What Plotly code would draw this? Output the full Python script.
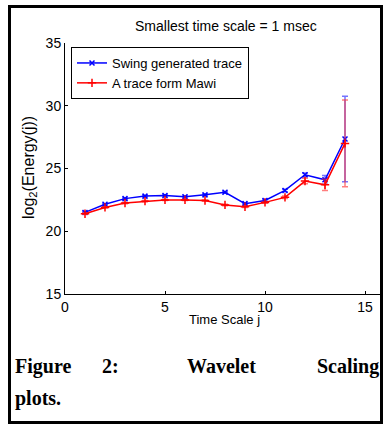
import plotly.graph_objects as go

# ---- data ----
scale_j = list(range(1, 15))
swing_energy = [21.5, 22.15, 22.6, 22.8, 22.85, 22.75, 22.9, 23.1, 22.2, 22.45, 23.25, 24.5, 24.1, 27.35]
swing_err = [0.05, 0.05, 0.05, 0.05, 0.05, 0.05, 0.05, 0.06, 0.06, 0.07, 0.1, 0.15, 0.35, 3.4]
mawi_energy = [21.4, 21.9, 22.25, 22.4, 22.5, 22.5, 22.45, 22.1, 21.95, 22.3, 22.7, 24.0, 23.7, 27.0]
mawi_err = [0.05, 0.05, 0.05, 0.05, 0.05, 0.05, 0.05, 0.06, 0.06, 0.07, 0.1, 0.22, 0.45, 3.45]
x_ticks = [0, 5, 10, 15]
y_ticks = [15, 20, 25, 30, 35]

W, H = 383, 424
L, R, T, B = 65, 380, 43, 294


def px(x):
    return (x - L) / (R - L)


def py(y):
    return (B - y) / (B - T)


fig = go.Figure()
fig.add_trace(go.Scatter(
    x=scale_j, y=swing_energy, mode="lines+markers", name="Swing generated trace",
    line=dict(color="#0000ff", width=1.5),
    marker=dict(symbol="x-thin-open", size=5, color="#0000ff", line=dict(width=1.5, color="#0000ff")),
    error_y=dict(type="data", array=swing_err, visible=True, color="rgba(40,40,255,0.65)", thickness=1.5, width=3),
))
fig.add_trace(go.Scatter(
    x=scale_j, y=mawi_energy, mode="lines+markers", name="A trace form Mawi",
    line=dict(color="#ff0000", width=1.5),
    marker=dict(symbol="cross-thin-open", size=6, color="#ff0000", line=dict(width=1.5, color="#ff0000")),
    error_y=dict(type="data", array=mawi_err, visible=True, color="rgba(255,40,40,0.6)", thickness=1.5, width=3),
))

font = "Liberation Sans, Arial, Helvetica, sans-serif"
serif = "Liberation Serif, Times New Roman, serif"

annotations = [
    dict(text="Smallest time scale = 1 msec", x=px(226), y=py(26), xref="paper", yref="paper",
         showarrow=False, font=dict(family=font, size=14, color="black"), xanchor="center", yanchor="middle"),
    dict(text="Time Scale j", x=px(224), y=py(319), xref="paper", yref="paper",
         showarrow=False, font=dict(family=font, size=13, color="black"), xanchor="center", yanchor="middle"),
    dict(text="log<sub>2</sub>(Energy(j))", x=px(29), y=py(168), xref="paper", yref="paper", textangle=-90,
         showarrow=False, font=dict(family=font, size=16, color="black"), xanchor="center", yanchor="middle"),
]
cap_font = dict(family=serif, size=20, color="black", weight="bold")
for word, xpos, anchor in [("Figure", 13, "left"), ("2:", 100, "left"), ("Wavelet", 185, "left"), ("Scaling", 381, "right")]:
    annotations.append(dict(text="<b>%s</b>" % word, x=px(xpos), y=py(366), xref="paper", yref="paper",
                            showarrow=False, font=cap_font, xanchor=anchor, yanchor="middle"))
annotations.append(dict(text="<b>plots.</b>", x=px(13), y=py(398), xref="paper", yref="paper",
                        showarrow=False, font=cap_font, xanchor="left", yanchor="middle"))

shapes = [
    dict(type="rect", xref="paper", yref="paper", x0=px(9.5), x1=px(381.5), y0=py(422.5), y1=py(6.5),
         line=dict(color="black", width=3)),
]

fig.update_layout(
    width=W, height=H, margin=dict(l=L, r=W - R, t=T, b=H - B),
    paper_bgcolor="white", plot_bgcolor="white",
    showlegend=True,
    legend=dict(x=px(71), y=py(47), xanchor="left", yanchor="top", bgcolor="white",
                bordercolor="black", borderwidth=1, font=dict(family=font, size=13, color="black"),
                itemwidth=30, tracegroupgap=0),
    annotations=annotations, shapes=shapes,
    font=dict(family=font, color="black"),
)
fig.update_xaxes(range=[0, 15.75], tickvals=x_ticks, ticks="inside", ticklen=3, tickcolor="black",
                 showline=True, linecolor="black", linewidth=1, showgrid=False, zeroline=False,
                 tickfont=dict(family=font, size=14, color="black"))
fig.update_yaxes(range=[15, 35], tickvals=y_ticks, ticks="inside", ticklen=3, tickcolor="black",
                 showline=True, linecolor="black", linewidth=1, showgrid=False, zeroline=False,
                 tickfont=dict(family=font, size=14, color="black"))

fig.write_html("out.html", config={"displayModeBar": False},
               post_script="document.body.style.margin='0';document.body.style.overflow='hidden';")
